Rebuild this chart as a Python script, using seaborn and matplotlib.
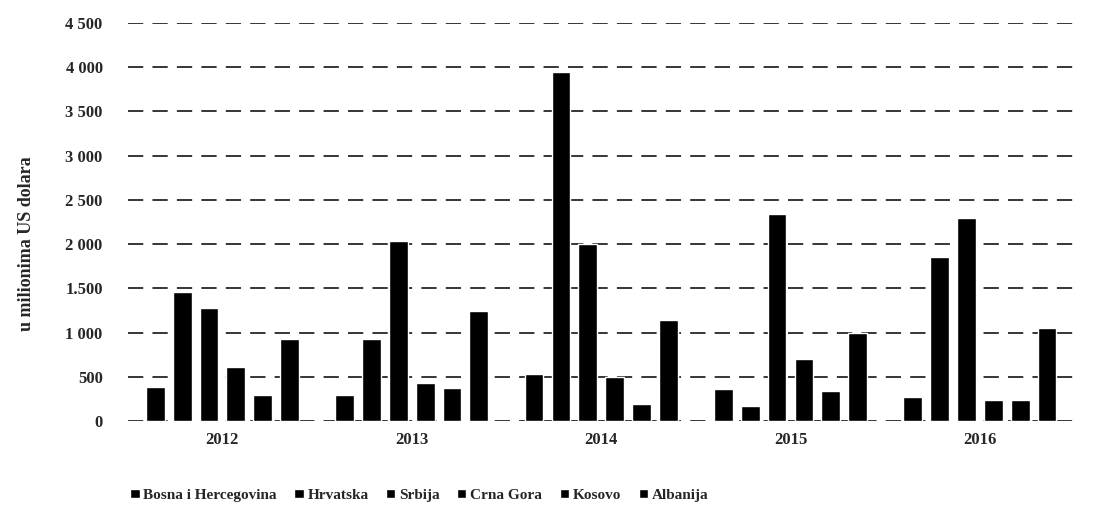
import matplotlib
matplotlib.use("Agg")
import matplotlib.pyplot as plt
import seaborn as sns
import pandas as pd

years = ["2012", "2013", "2014", "2015", "2016"]
countries = ["Bosna i Hercegovina", "Hrvatska", "Srbija", "Crna Gora", "Kosovo", "Albanija"]
bih = [390, 295, 530, 360, 270]
hrv = [1455, 930, 3950, 170, 1850]
srb = [1275, 2040, 2000, 2335, 2290]
cg = [610, 430, 495, 700, 240]
kos = [295, 370, 190, 340, 240]
alb = [925, 1240, 1140, 990, 1050]
yticks = [0, 500, 1000, 1500, 2000, 2500, 3000, 3500, 4000, 4500]
ytick_labels = ["0", "500", "1 000", "1.500", "2 000", "2 500", "3 000", "3 500", "4 000", "4 500"]
ylabel = "u milionima US dolara"

series = [bih, hrv, srb, cg, kos, alb]
rows = []
for c, vals in zip(countries, series):
    for y, v in zip(years, vals):
        rows.append({"Godina": y, "Zemlja": c, "Vrijednost": v})
df = pd.DataFrame(rows)

sns.set_theme(style="white")
plt.rcParams["font.family"] = ["Liberation Serif", "DejaVu Serif"]
plt.rcParams["font.weight"] = "bold"

fig = plt.figure(figsize=(11.01, 5.15), dpi=100)
ax = fig.add_axes([0.116, 0.1825, 0.86, 0.773])

sns.barplot(data=df, x="Godina", y="Vrijednost", hue="Zemlja", order=years,
            hue_order=countries, palette=["black"] * 6, width=0.85, gap=0.3,
            saturation=1, ax=ax, legend=True, zorder=3)

ax.set_ylim(0, 4500)
ax.set_yticks(yticks)
ax.set_yticklabels(ytick_labels, fontsize=12, fontweight="bold")
for t in ax.get_xticklabels():
    t.set_fontsize(12)
    t.set_fontweight("bold")
ax.set_xlabel("")
ax.set_ylabel(ylabel, fontsize=13, fontweight="bold")
ax.yaxis.set_label_coords(-0.098, 0.445)
ax.tick_params(axis="both", length=0, pad=8)
ax.tick_params(axis="y", pad=18)
ax.yaxis.grid(True, color="black", linewidth=1.1, linestyle=(0, (10, 6)), zorder=0)
ax.set_axisbelow(True)
for s in ax.spines.values():
    s.set_visible(False)

handles, labels = ax.get_legend_handles_labels()
ax.legend(handles, labels, loc="upper center", bbox_to_anchor=(0.308, -0.135), ncol=6,
          frameon=False, handlelength=0.6, handleheight=0.6, handletextpad=0.25,
          columnspacing=1.15, prop={"size": 11, "weight": "bold"})

fig.savefig("out.png", dpi=100)
